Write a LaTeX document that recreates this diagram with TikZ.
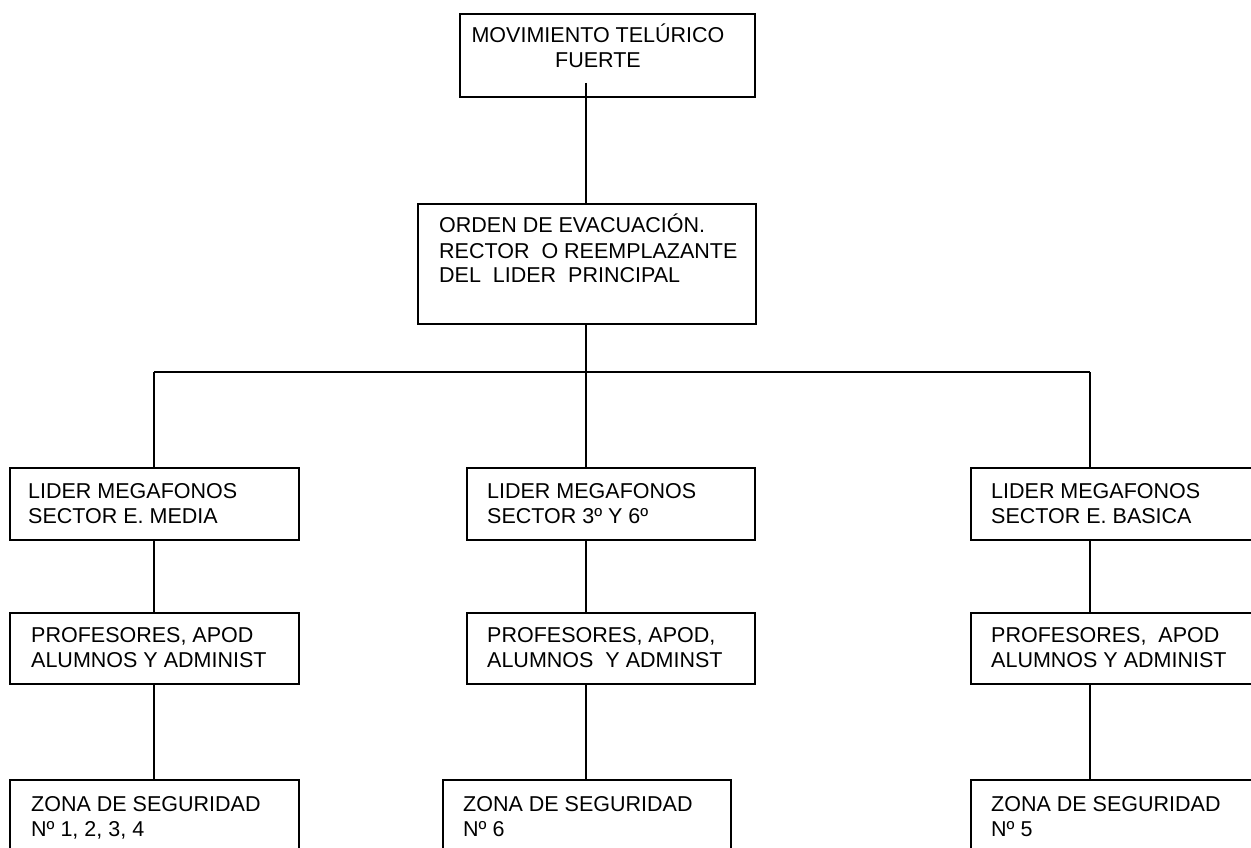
\documentclass[tikz,border=0pt]{standalone}
\usepackage{fontspec}
\setmainfont{Liberation Sans}
\begin{document}
\begin{tikzpicture}[x=1pt,y=-1pt,
  box/.style={draw, line width=1.7pt, rectangle, anchor=north west, inner sep=0pt},
  conn/.style={line width=1.7pt},
  txt/.style={inner sep=0pt, font=\fontsize{21.5}{25}\selectfont}]
\useasboundingbox (0,0) rectangle (1251,848);
\clip (0,0) rectangle (1251,848);
% boxes
\node[box, minimum width=295, minimum height=83] (top) at (459,13) {};
\node[box, minimum width=338, minimum height=120] (orden) at (417,203) {};
\node[box, minimum width=289, minimum height=72] (la) at (9,467) {};
\node[box, minimum width=288, minimum height=72] (lb) at (466,467) {};
\node[box, minimum width=288, minimum height=72] (lc) at (970,467) {};
\node[box, minimum width=289, minimum height=71] (pa) at (9,612) {};
\node[box, minimum width=288, minimum height=71] (pb) at (466,612) {};
\node[box, minimum width=288, minimum height=71] (pc) at (970,612) {};
\node[box, minimum width=289, minimum height=72] (za) at (9,779) {};
\node[box, minimum width=288, minimum height=72] (zb) at (442,779) {};
\node[box, minimum width=288, minimum height=72] (zc) at (970,779) {};
% texts
\node[txt, anchor=base] (ttop) at (598,43) {\begin{tabular}[t]{@{}c@{}}MOVIMIENTO TELÚRICO\\FUERTE\end{tabular}};
\node[txt, anchor=base west] (torden) at (439,233) {\begin{tabular}[t]{@{}l@{}}ORDEN DE EVACUACIÓN.\\RECTOR~~O REEMPLAZANTE\\DEL~~LIDER~~PRINCIPAL\end{tabular}};
\node[txt, anchor=base west] (tla) at (28,498) {\begin{tabular}[t]{@{}l@{}}LIDER MEGAFONOS\\SECTOR E. MEDIA\end{tabular}};
\node[txt, anchor=base west] (tlb) at (487,498) {\begin{tabular}[t]{@{}l@{}}LIDER MEGAFONOS\\SECTOR 3º Y 6º\end{tabular}};
\node[txt, anchor=base west] (tlc) at (991,498) {\begin{tabular}[t]{@{}l@{}}LIDER MEGAFONOS\\SECTOR E. BASICA\end{tabular}};
\node[txt, anchor=base west] (tpa) at (31,642) {\begin{tabular}[t]{@{}l@{}}PROFESORES, APOD\\ALUMNOS Y ADMINIST\end{tabular}};
\node[txt, anchor=base west] (tpb) at (487,642) {\begin{tabular}[t]{@{}l@{}}PROFESORES, APOD,\\ALUMNOS~~Y ADMINST\end{tabular}};
\node[txt, anchor=base west] (tpc) at (991,642) {\begin{tabular}[t]{@{}l@{}}PROFESORES,~~APOD\\ALUMNOS Y ADMINIST\end{tabular}};
\node[txt, anchor=base west] (tza) at (31,811) {\begin{tabular}[t]{@{}l@{}}ZONA DE SEGURIDAD\\Nº 1, 2, 3, 4\end{tabular}};
\node[txt, anchor=base west] (tzb) at (463,811) {\begin{tabular}[t]{@{}l@{}}ZONA DE SEGURIDAD\\Nº 6\end{tabular}};
\node[txt, anchor=base west] (tzc) at (991,811) {\begin{tabular}[t]{@{}l@{}}ZONA DE SEGURIDAD\\Nº 5\end{tabular}};
% connector coordinates
\coordinate (start) at (586,83);
\coordinate (xa) at (154,372);
\coordinate (xb) at (586,372);
\coordinate (xc) at (1090,372);
% connectors
\draw[conn] (start) -- (start |- orden.north);
\draw[conn] (xb |- orden.south) -- (xb);
\draw[conn] (xa) -- (xc);
\draw[conn] (xa) -- (xa |- la.north);
\draw[conn] (xb) -- (xb |- lb.north);
\draw[conn] (xc) -- (xc |- lc.north);
\draw[conn] (xa |- la.south) -- (xa |- pa.north);
\draw[conn] (xb |- lb.south) -- (xb |- pb.north);
\draw[conn] (xc |- lc.south) -- (xc |- pc.north);
\draw[conn] (xa |- pa.south) -- (xa |- za.north);
\draw[conn] (xb |- pb.south) -- (xb |- zb.north);
\draw[conn] (xc |- pc.south) -- (xc |- zc.north);
\end{tikzpicture}
\end{document}
